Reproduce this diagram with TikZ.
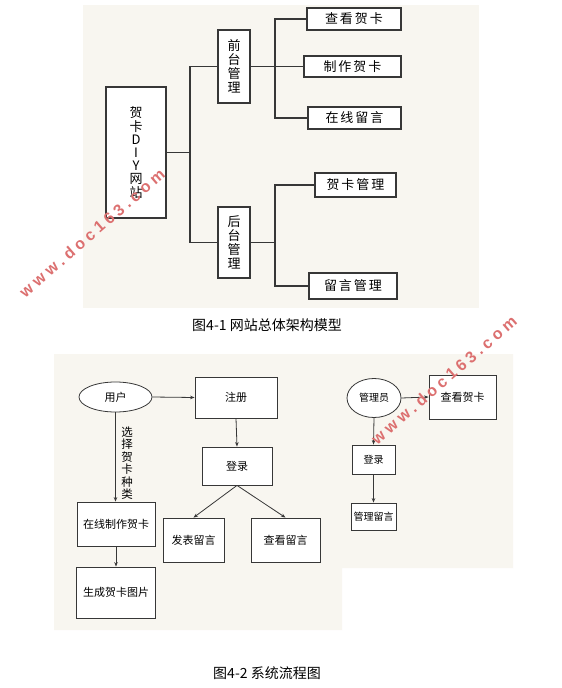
\documentclass[tikz,border=0pt]{standalone}
\usepackage{fontspec}
\setmainfont{Noto Sans CJK SC}
\newfontfamily\wmfont{Liberation Sans}
\usetikzlibrary{arrows.meta,shapes.geometric}
\definecolor{bgc}{RGB}{248,246,240}
\definecolor{linec}{RGB}{55,55,55}
\definecolor{wmc}{RGB}{220,112,112}
\newcommand\sk{\kern2pt}
\newcommand\wk{\kern4pt}
\begin{document}
\begin{tikzpicture}[x=1pt,y=-1pt,
  boxa/.style={draw=linec, line width=1.1pt, fill=white, inner sep=0pt, font=\fontsize{13}{14}\selectfont, align=center},
  boxb/.style={draw=linec, line width=0.8pt, fill=white, inner sep=0pt, font=\fontsize{11}{13}\selectfont, align=center},
  ellb/.style={boxb, ellipse},
  conn/.style={draw=linec, line width=1.1pt},
  arr/.style={draw=linec, line width=0.8pt, -{Stealth[length=4.5pt,width=3.5pt]}},
  captext/.style={font=\fontsize{14}{16}\selectfont, inner sep=0pt},
  wmark/.style={text=wmc, font=\wmfont\bfseries\fontsize{16}{18}\selectfont, rotate=41, inner sep=0pt}]
\useasboundingbox (0,0) rectangle (562,688);
\fill[white] (0,0) rectangle (562,688);
% backgrounds
\fill[bgc] (83,5) rectangle (479,308);
\fill[bgc] (54,354) -- (513,354) -- (513,568) -- (342,568) -- (342,630) -- (54,630) -- cycle;

% ---------- figure 4-1 ----------
\node[boxa, minimum width=60pt, minimum height=131pt, font=\fontsize{13}{13.2}\selectfont] (root) at (136,152.5) {贺\\卡\\D\\I\\Y\\网\\站};
\node[boxa, minimum width=32pt, minimum height=73pt] (qt) at (234,66.5) {前\\台\\管\\理};
\node[boxa, minimum width=32pt, minimum height=71pt] (ht) at (234,242.5) {后\\台\\管\\理};
\node[boxa, minimum width=94pt, minimum height=22pt] (ckhk) at (354,19) {查\sk 看\sk 贺\sk 卡};
\node[boxa, minimum width=97pt, minimum height=21pt] (zzhk) at (352.5,66.5) {制\sk 作\sk 贺\sk 卡};
\node[boxa, minimum width=93pt, minimum height=22pt] (zxly) at (354.5,118) {在\sk 线\sk 留\sk 言};
\node[boxa, minimum width=81pt, minimum height=24pt] (hkgl) at (355.5,185) {贺\sk 卡\sk 管\sk 理};
\node[boxa, minimum width=88pt, minimum height=26pt] (lygl) at (353,286) {留\sk 言\sk 管\sk 理};

\coordinate (j1) at (190,152.5);
\coordinate (j2) at (275,66.5);
\coordinate (j3) at (275,242.5);
\draw[conn] (root.east) -- (j1);
\draw[conn] (qt.west) -| (j1) |- (ht.west);
\draw[conn] (qt.east) -- (j2);
\draw[conn] (ckhk.west) -| (j2) |- (zxly.west);
\draw[conn] (j2) -- (zzhk.west);
\draw[conn] (ht.east) -- (j3);
\draw[conn] (hkgl.west) -| (j3) |- (lygl.west);

\node[captext] (cap1) at (267,325) {图4-1 网站总体架构模型};

% ---------- figure 4-2 ----------
\node[ellb, minimum width=73pt, minimum height=30pt] (user) at (115.5,397) {用户};
\node[boxb, minimum width=82pt, minimum height=41pt] (zc) at (236,397.5) {注册};
\node[boxb, minimum width=70pt, minimum height=38pt] (dl) at (237,466) {登录};
\node[boxb, minimum width=61pt, minimum height=44pt] (fbly) at (193.5,540) {发表留言};
\node[boxb, minimum width=69pt, minimum height=44pt] (ckly) at (285.5,540) {查看留言};
\node[boxb, minimum width=78pt, minimum height=44pt] (zxzz) at (116,524) {在线制作贺卡};
\node[boxb, minimum width=79pt, minimum height=51pt] (scht) at (116,592.5) {生成贺卡图片};

\node[ellb, minimum width=54pt, minimum height=39pt, font=\fontsize{10}{12}\selectfont] (admin) at (374,398) {管理员};
\node[boxb, minimum width=67pt, minimum height=44pt] (ckhk2) at (462.5,397) {查看贺卡};
\node[boxb, minimum width=43pt, minimum height=29pt, font=\fontsize{10}{12}\selectfont] (dl2) at (373.5,459.5) {登录};
\node[boxb, minimum width=45pt, minimum height=27pt, font=\fontsize{10}{12}\selectfont] (glly) at (373.5,516.5) {管理留言};

\draw[arr] (user.east) -- (zc.west);
\draw[arr] (zc.south) -- (dl.north);
\draw[arr] (dl.south) -- (fbly.north);
\draw[arr] (dl.south) -- (ckly.north);
\draw[arr] (user.south) -- (zxzz.north -| user.south);
\draw[arr] (zxzz.south) -- (scht.north);
\draw[arr] (admin.east) -- (ckhk2.west);
\draw[arr] (admin.south) -- (dl2.north);
\draw[arr] (dl2.south) -- (glly.north);
\node[font=\fontsize{11.5}{12.5}\selectfont, align=center, inner sep=0pt] (lbl) at (127,463) {选\\择\\贺\\卡\\种\\类};

\node[captext] (cap2) at (267,673) {图4-2 系统流程图};

% watermarks
\node[wmark] (wm1) at (92,233) {w\wk w\wk w\wk .\wk d\wk o\wk c\wk 1\wk 6\wk 3\wk .\wk c\wk o\wk m};
\node[wmark] (wm2) at (444,380) {w\wk w\wk w\wk .\wk d\wk o\wk c\wk 1\wk 6\wk 3\wk .\wk c\wk o\wk m};
\end{tikzpicture}
\end{document}
